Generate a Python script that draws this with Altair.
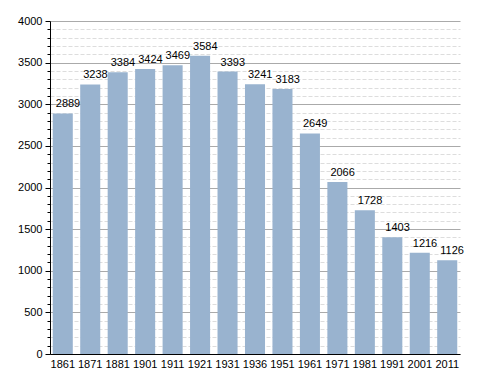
import altair as alt
import pandas as pd

years = ["1861", "1871", "1881", "1901", "1911", "1921", "1931", "1936",
         "1951", "1961", "1971", "1981", "1991", "2001", "2011"]
population = [2889, 3238, 3384, 3424, 3469, 3584, 3393, 3241,
              3183, 2649, 2066, 1728, 1403, 1216, 1126]
y_ticks = list(range(0, 4001, 100))

df = pd.DataFrame({"year": years, "pop": population})

FONT = "Liberation Sans"

x = alt.X("year:N", sort=None, title=None,
          scale=alt.Scale(paddingInner=0.27, paddingOuter=0.1),
          axis=alt.Axis(labelAngle=0, ticks=False, domainColor="black",
                        labelFont=FONT, labelFontSize=11, labelColor="black",
                        labelPadding=4))
y = alt.Y("pop:Q", title=None,
          scale=alt.Scale(domain=[0, 4000], nice=False),
          axis=alt.Axis(values=y_ticks, format="d",
                        labelExpr="datum.value % 500 == 0 ? datum.label : ''",
                        labelFont=FONT, labelFontSize=11, labelColor="black",
                        labelPadding=3,
                        domainColor="black",
                        tickColor="black",
                        tickSize={"condition": {"test": "datum.value % 500 == 0", "value": 5}, "value": 3},
                        gridColor={"condition": {"test": "datum.value % 500 == 0", "value": "#aaaaaa"}, "value": "#dddddd"},
                        gridDash={"condition": {"test": "datum.value % 500 == 0", "value": []}, "value": [4, 2]},
                        gridWidth=1))

bars = alt.Chart(df).mark_bar(color="#99b3cf").encode(x=x, y=y)
labels = alt.Chart(df).mark_text(align="left", baseline="bottom", dx=-7, dy=-4,
                                 font=FONT, fontSize=11, color="black").encode(
    x=x, y=y, text="pop:Q")

chart = (bars + labels).properties(
    width=410, height=333,
    autosize=alt.AutoSizeParams(type="none"),
    padding={"left": 42, "top": 13, "right": 10, "bottom": 16},
).configure_view(stroke=None)

chart.save("out.html", embed_options={"renderer": "svg", "actions": False})
